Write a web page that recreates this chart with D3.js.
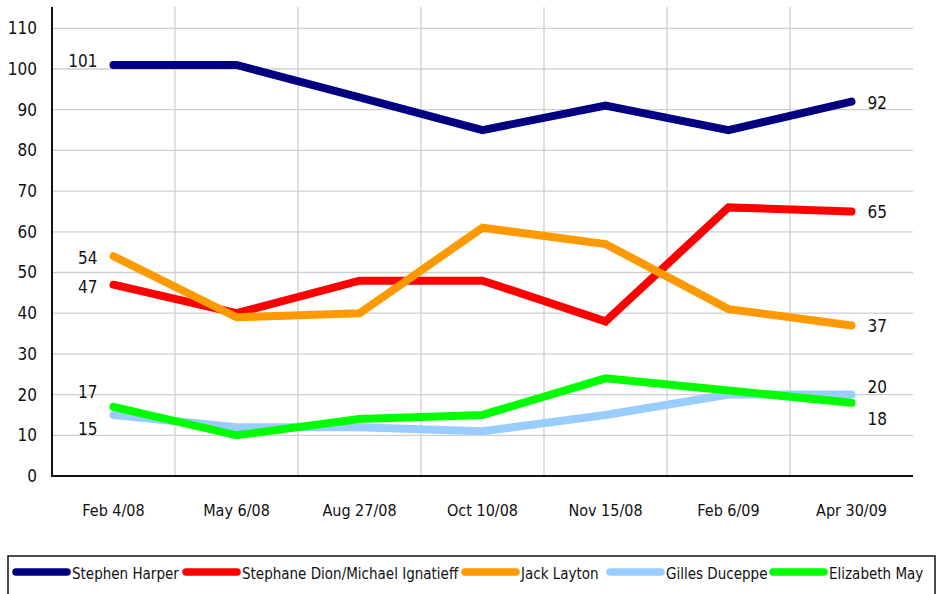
<!DOCTYPE html>
<html>
<head>
<meta charset="utf-8">
<script src="https://cdn.jsdelivr.net/npm/d3@7"></script>
<style>
  body { margin: 0; background: #fff; }
  text { font-family: "DejaVu Sans Condensed", "DejaVu Sans", sans-serif; font-stretch: condensed; fill: #111; }
</style>
</head>
<body>
<script>
var dates = ["Feb 4/08", "May 6/08", "Aug 27/08", "Oct 10/08", "Nov 15/08", "Feb 6/09", "Apr 30/09"];
var names = ["Stephen Harper", "Stephane Dion/Michael Ignatieff", "Jack Layton", "Gilles Duceppe", "Elizabeth May"];
var harper = [101, 101, 93, 85, 91, 85, 92];
var dion = [47, 40, 48, 48, 38, 66, 65];
var layton = [54, 39, 40, 61, 57, 41, 37];
var duceppe = [15, 12, 12, 11, 15, 20, 20];
var may = [17, 10, 14, 15, 24, 21, 18];
var yTicks = [0, 10, 20, 30, 40, 50, 60, 70, 80, 90, 100, 110];

var colors = ["#000080", "#ff0000", "#ff9900", "#99ccff", "#00ff00"];
var series = [harper, dion, layton, duceppe, may];
// vertical nudge of the first / last value labels
var firstDy = [-4, 2, 2, 14, -15];
var lastDy = [1, 1, 1, -8, 16];

var w = 939, h = 594;
var mLeft = 52, mRight = 913, mTop = 28.3, mBottom = 476;

var svg = d3.select("body").append("svg").attr("width", w).attr("height", h);

var x = d3.scaleBand().domain(dates).range([mLeft, mRight]);
var y = d3.scaleLinear().domain([0, 110]).range([mBottom, mTop]);

// grid
svg.append("g").selectAll("line")
    .data(yTicks.slice(1))
    .enter().append("line")
    .attr("x1", mLeft).attr("x2", mRight)
    .attr("y1", function (d) { return y(d); })
    .attr("y2", function (d) { return y(d); })
    .style("stroke", "#d0d0d0").style("stroke-width", 1.3);

svg.append("g").selectAll("line")
    .data(dates.slice(1))
    .enter().append("line")
    .attr("x1", function (d) { return x(d); })
    .attr("x2", function (d) { return x(d); })
    .attr("y1", 7).attr("y2", mBottom)
    .style("stroke", "#d0d0d0").style("stroke-width", 1.3);

// axes
var yAxis = d3.axisLeft(y).tickValues(yTicks).tickSize(0).tickPadding(15);
var gy = svg.append("g").attr("transform", "translate(" + mLeft + ",0)").call(yAxis);
gy.select(".domain").remove();
gy.attr("font-family", null);
gy.selectAll("text").style("font-size", "17px").attr("fill", "#111");

var xAxis = d3.axisBottom(x).tickSize(0).tickPadding(29);
var gx = svg.append("g").attr("transform", "translate(0," + mBottom + ")").call(xAxis);
gx.select(".domain").remove();
gx.attr("font-family", null);
gx.selectAll("text").style("font-size", "16px").attr("fill", "#111");

svg.append("line").attr("x1", mLeft).attr("x2", mLeft).attr("y1", 7).attr("y2", mBottom + 1)
    .style("stroke", "#111").style("stroke-width", 2);
svg.append("line").attr("x1", mLeft).attr("x2", mRight).attr("y1", mBottom).attr("y2", mBottom)
    .style("stroke", "#111").style("stroke-width", 2);

// lines
var cx = function (d, i) { return x(dates[i]) + x.bandwidth() / 2; };
var line = d3.line().x(cx).y(function (d) { return y(d); });

svg.append("g").selectAll("path")
    .data(series)
    .enter().append("path")
    .attr("d", line)
    .style("fill", "none")
    .style("stroke", function (d, i) { return colors[i]; })
    .style("stroke-width", 8)
    .style("stroke-linecap", "round")
    .style("stroke-linejoin", "miter");

// value labels
var last = dates.length - 1;
svg.append("g").selectAll("text")
    .data(series)
    .enter().append("text")
    .attr("x", cx(0, 0) - 16)
    .attr("y", function (d, i) { return y(d[0]) + firstDy[i]; })
    .attr("dy", "0.35em")
    .attr("text-anchor", "end")
    .style("font-size", "17px")
    .text(function (d) { return d[0]; });

svg.append("g").selectAll("text")
    .data(series)
    .enter().append("text")
    .attr("x", cx(0, last) + 16)
    .attr("y", function (d, i) { return y(d[last]) + lastDy[i]; })
    .attr("dy", "0.35em")
    .attr("text-anchor", "start")
    .style("font-size", "17px")
    .text(function (d) { return d[last]; });

// legend
var legend = svg.append("g");
legend.append("rect").attr("x", 8).attr("y", 556).attr("width", 927).attr("height", 50)
    .style("fill", "#fff").style("stroke", "#111").style("stroke-width", 1.5);

var lx = [13, 183, 462, 607, 770];
var items = legend.selectAll("g")
    .data(names)
    .enter().append("g")
    .attr("transform", function (d, i) { return "translate(" + lx[i] + ",572)"; });

items.append("line")
    .attr("x1", 3).attr("x2", 54).attr("y1", 0).attr("y2", 0)
    .style("stroke", function (d, i) { return colors[i]; })
    .style("stroke-width", 7.5)
    .style("stroke-linecap", "round");

items.append("text")
    .attr("x", 59).attr("y", 2).attr("dy", "0.35em")
    .style("font-size", "15px")
    .text(function (d) { return d; });
</script>
</body>
</html>
